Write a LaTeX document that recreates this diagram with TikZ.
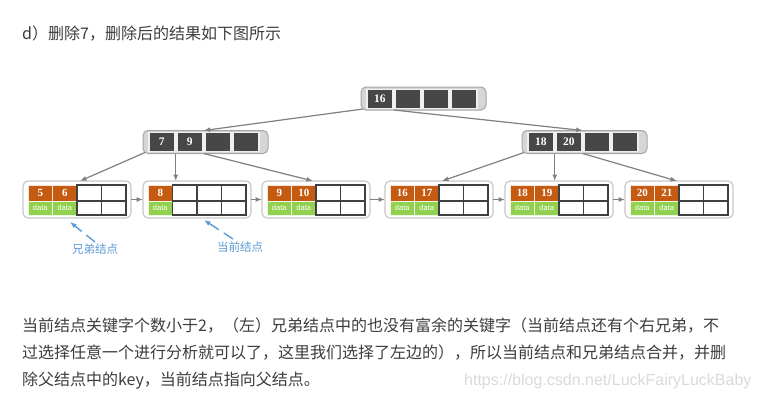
\documentclass[tikz,border=0pt]{standalone}
\usepackage{fontspec}
\setmainfont{Liberation Sans}
\newfontfamily\cjk{Noto Sans CJK SC}
\newfontfamily\numfont{Liberation Serif}
\usetikzlibrary{arrows.meta}
\definecolor{arrowgray}{HTML}{808080}
\definecolor{darkcell}{HTML}{474747}
\definecolor{orangek}{HTML}{C55A11}
\definecolor{greend}{HTML}{92D050}
\definecolor{noteblue}{HTML}{5B9BD5}
\definecolor{txt}{HTML}{3D3D3D}
\definecolor{boxgray}{HTML}{D6D6D6}
\definecolor{boxline}{HTML}{A6A6A6}
\definecolor{leafline}{HTML}{C8C8C8}
\definecolor{gridline}{HTML}{404040}
\definecolor{wmark}{HTML}{DADADA}

\newcommand{\inode}[5]{%
  \node[inbox, anchor=north west] (#1) at (#2,#3) {};
  \node[instrip, anchor=north west] (#1-s) at ({#2+5},{#3+1.5}) {};
  \node[icell, anchor=north west] (#1-c0) at ({#2+7},{#3+2.5}) {#4};
  \node[icell, anchor=north west] (#1-c1) at ({#2+35},{#3+2.5}) {#5};
  \node[icell, anchor=north west] (#1-c2) at ({#2+63},{#3+2.5}) {};
  \node[icell, anchor=north west] (#1-c3) at ({#2+91},{#3+2.5}) {};
  \coordinate (#1-p0) at ({#2+2},{#3+22});
  \coordinate (#1-p1) at ({#2+32.75},{#3+23});
  \coordinate (#1-p2) at ({#2+60.75},{#3+23});
  \coordinate (#1-in) at ({#2+60.75},#3);
}

\newcommand{\leafnode}[6]{%
  \node[leafbox, anchor=north west] (#1) at (#2,181) {};
  \node[keycell, anchor=north west] (#1-k1) at ({#2+5},185) {#4};
  \node[datacell, anchor=north west] (#1-d1) at ({#2+5},201) {data};
  \ifnum#3>1
    \node[keycell, anchor=north west] (#1-k2) at ({#2+29.5},185) {#5};
    \node[datacell, anchor=north west] (#1-d2) at ({#2+29.5},201) {data};
  \fi
  \foreach \c in {#3,...,3}{%
    \node[emptyk, anchor=north west] (#1-ek\c) at ({#2+5+24.5*\c},185) {};
    \node[emptyd, anchor=north west] (#1-ed\c) at ({#2+5+24.5*\c},201) {};
  }
  \coordinate (#1-in) at (#6,181);
}

\begin{document}
\begin{tikzpicture}[x=1pt,y=-1pt,
  inbox/.style={draw=boxline, fill=boxgray, rounded corners=5pt, line width=1pt,
    minimum width=125pt, minimum height=23pt, inner sep=0pt, outer sep=0pt},
  instrip/.style={fill=white!94!black, draw=none, minimum width=111.5pt, minimum height=20pt, inner sep=0pt, outer sep=0pt},
  icell/.style={fill=darkcell, draw=none, minimum width=23.5pt, minimum height=18pt,
    inner sep=0pt, outer sep=0pt, text=white, font=\numfont\bfseries\fontsize{11.5}{11.5}\selectfont},
  leafbox/.style={draw=leafline, fill=white, rounded corners=5pt, line width=1.2pt,
    minimum width=108pt, minimum height=37pt, inner sep=0pt, outer sep=0pt},
  keycell/.style={fill=orangek, draw=white!85!orangek, line width=0.6pt, minimum width=24.5pt, minimum height=16pt,
    inner sep=0pt, outer sep=0pt, text=white, font=\numfont\bfseries\fontsize{11}{11}\selectfont},
  datacell/.style={fill=greend, draw=white!85!greend, line width=0.6pt, minimum width=24.5pt, minimum height=14pt,
    inner sep=0pt, outer sep=0pt, text=white, font=\fontsize{7.5}{7.5}\selectfont},
  emptyk/.style={fill=white, draw=gridline, line width=1.1pt, minimum width=24.5pt, minimum height=16pt, inner sep=0pt, outer sep=0pt},
  emptyd/.style={fill=white, draw=gridline, line width=1.1pt, minimum width=24.5pt, minimum height=14pt, inner sep=0pt, outer sep=0pt},
  conn/.style={draw=arrowgray, line width=1.2pt, -{Latex[length=6.5pt,width=5pt]}},
  noteconn/.style={draw=noteblue, line width=1.4pt, dash pattern=on 11pt off 6pt on 60pt off 0pt, -{Latex[length=6.5pt,width=5pt]}},
  txtnode/.style={font=\cjk\fontsize{16}{16}\selectfont, text=txt, inner sep=0pt, text height=14pt, text depth=2pt, anchor=west},
  notetxt/.style={font=\cjk\fontsize{11.5}{11.5}\selectfont, text=noteblue, inner sep=0pt}
]
\useasboundingbox[fill=white] (0,0) rectangle (757,400);

\node[txtnode] (title) at (22,33) {d）删除7，删除后的结果如下图所示};

% internal nodes
\inode{root}{361}{87}{16}{}
\inode{ml}{143}{130.5}{7}{9}
\inode{mr}{522}{130.5}{18}{20}

% leaves
\leafnode{L1}{23}{2}{5}{6}{80}
\leafnode{L2}{143}{1}{8}{}{175.75}
\leafnode{L3}{262}{2}{9}{10}{313}
\leafnode{L4}{385}{2}{16}{17}{442}
\leafnode{L5}{505}{2}{18}{19}{554.75}
\leafnode{L6}{625}{2}{20}{21}{677}

% tree connectors
\draw[conn] (root-p0) -- (ml-in);
\draw[conn] (root-p1) -- (mr-in);
\draw[conn] (ml-p0) -- (L1-in);
\draw[conn] (ml-p1) -- (L2-in);
\draw[conn] (ml-p2) -- (L3-in);
\draw[conn] (mr-p0) -- (L4-in);
\draw[conn] (mr-p1) -- (L5-in);
\draw[conn] (mr-p2) -- (L6-in);

% leaf chain
\draw[conn] (L1.east) -- (L2.west);
\draw[conn] (L2.east) -- (L3.west);
\draw[conn] (L3.east) -- (L4.west);
\draw[conn] (L4.east) -- (L5.west);
\draw[conn] (L5.east) -- (L6.west);

% notes
\node[notetxt] (n1) at (95,249) {兄弟结点};
\node[notetxt] (n2) at (240,247) {当前结点};
\coordinate (n1s) at (95,242);
\coordinate (n1t) at (70,222);
\coordinate (n2s) at (233,239);
\coordinate (n2t) at (204,220);
\draw[noteconn] (n1s) -- (n1t);
\draw[noteconn] (n2s) -- (n2t);

% paragraph
\node[txtnode] (l1) at (22,325) {当前结点关键字个数小于2，（左）兄弟结点中的也没有富余的关键字（当前结点还有个右兄弟，不};
\node[txtnode] (l2) at (22,352) {过选择任意一个进行分析就可以了，这里我们选择了左边的），所以当前结点和兄弟结点合并，并删};
\node[txtnode] (l3) at (22,379) {除父结点中的key，当前结点指向父结点。};

\node[font=\fontsize{16}{16}\selectfont, text=wmark, inner sep=0pt, anchor=west] (wm) at (464,381) {https://blog.csdn.net/LuckFairyLuckBaby};
\end{tikzpicture}
\end{document}
